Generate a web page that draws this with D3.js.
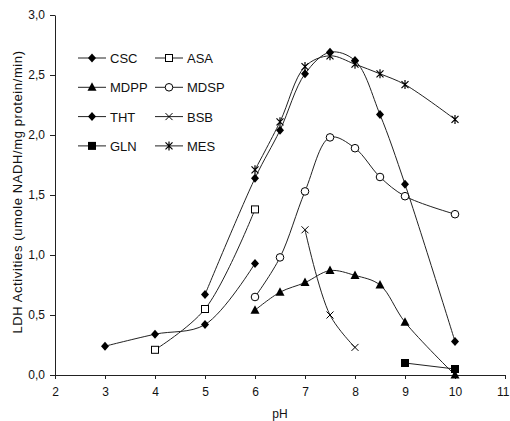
<!DOCTYPE html>
<html>
<head>
<meta charset="utf-8">
<script src="https://cdn.jsdelivr.net/npm/d3@7"></script>
<style>
  body { margin: 0; background: #fff; }
  text { font-family: "Liberation Sans", Arial, sans-serif; fill: #111; }
</style>
</head>
<body>
<script>
// series data (pH, activity)
var seriesNames = ["CSC", "ASA", "MDPP", "MDSP", "THT", "BSB", "GLN", "MES"];

var phCSC = [3, 4, 5, 6];
var valCSC = [0.24, 0.34, 0.42, 0.93];

var phASA = [4, 5, 6];
var valASA = [0.21, 0.55, 1.38];

var phMDPP = [6, 6.5, 7, 7.5, 8, 8.5, 9, 10];
var valMDPP = [0.54, 0.69, 0.77, 0.87, 0.83, 0.75, 0.44, 0.0];

var phMDSP = [6, 6.5, 7, 7.5, 8, 8.5, 9, 10];
var valMDSP = [0.65, 0.98, 1.53, 1.98, 1.89, 1.65, 1.49, 1.34];

var phTHT = [5, 6, 6.5, 7, 7.5, 8, 8.5, 9, 10];
var valTHT = [0.67, 1.64, 2.04, 2.51, 2.69, 2.62, 2.17, 1.59, 0.28];

var phBSB = [7, 7.5, 8];
var valBSB = [1.21, 0.50, 0.23];

var phGLN = [9, 10];
var valGLN = [0.10, 0.05];

var phMES = [6, 6.5, 7, 7.5, 8, 8.5, 9, 10];
var valMES = [1.71, 2.11, 2.57, 2.66, 2.59, 2.51, 2.42, 2.13];

var xTicks = [2, 3, 4, 5, 6, 7, 8, 9, 10, 11];
var yTicks = [0, 0.5, 1.0, 1.5, 2.0, 2.5, 3.0];

var markers = {CSC: "diamond", ASA: "square", MDPP: "triangle", MDSP: "circle",
               THT: "diamond", BSB: "cross", GLN: "fsquare", MES: "star"};

var series = [
  {name: "CSC", x: phCSC, y: valCSC},
  {name: "ASA", x: phASA, y: valASA},
  {name: "MDPP", x: phMDPP, y: valMDPP},
  {name: "MDSP", x: phMDSP, y: valMDSP},
  {name: "THT", x: phTHT, y: valTHT},
  {name: "BSB", x: phBSB, y: valBSB},
  {name: "GLN", x: phGLN, y: valGLN},
  {name: "MES", x: phMES, y: valMES}
];

var W = 510, H = 421;
var svg = d3.select("body").append("svg").attr("width", W).attr("height", H);

var x = d3.scaleLinear().domain([2, 11]).range([55, 505]);
var y = d3.scaleLinear().domain([0, 3]).range([375, 15]);

var comma = function(d) { return d3.format(".1f")(d).replace(".", ","); };

// axes
var yAxis = svg.append("g")
  .attr("transform", "translate(55,0)")
  .call(d3.axisLeft(y).tickValues(yTicks).tickFormat(comma).tickSize(5).tickSizeOuter(0));
var xAxis = svg.append("g")
  .attr("transform", "translate(0,375)")
  .call(d3.axisBottom(x).tickValues(xTicks).tickFormat(d3.format("d")).tickSize(4).tickSizeOuter(0));

[xAxis, yAxis].forEach(function(a) {
  a.selectAll("path, line").attr("stroke", "#222");
  a.selectAll("text").style("font-size", "12px").attr("fill", "#222");
});
yAxis.selectAll("text").attr("x", -10);
xAxis.selectAll("text").attr("y", 12);
// last label sits at the very edge of the window, nudge it inside
xAxis.selectAll(".tick").filter(function(d) { return d === 11; })
  .select("text").attr("text-anchor", "end").attr("x", 4);

// axis titles
svg.append("text")
  .attr("x", 280).attr("y", 418)
  .attr("text-anchor", "middle")
  .style("font-size", "12px")
  .text("pH");
svg.append("text")
  .attr("transform", "translate(22,192) rotate(-90)")
  .attr("text-anchor", "middle")
  .style("font-size", "13px")
  .style("letter-spacing", "0.6px")
  .text("LDH  Activities (umole NADH/mg protein/min)");

// draw one marker at (cx, cy)
function drawMarker(g, type, cx, cy) {
  var s;
  if (type === "diamond") {
    g.append("path").attr("d", "M" + cx + "," + (cy - 4.5) + "L" + (cx + 4) + "," + cy + "L" + cx + "," + (cy + 4.5) + "L" + (cx - 4) + "," + cy + "Z")
      .attr("fill", "#000");
  } else if (type === "square") {
    g.append("rect").attr("x", cx - 3.5).attr("y", cy - 3.5).attr("width", 7).attr("height", 7)
      .attr("fill", "#fff").attr("stroke", "#000").attr("stroke-width", 1);
  } else if (type === "fsquare") {
    g.append("rect").attr("x", cx - 4).attr("y", cy - 4).attr("width", 8).attr("height", 8)
      .attr("fill", "#000");
  } else if (type === "triangle") {
    g.append("path").attr("d", "M" + cx + "," + (cy - 5) + "L" + (cx + 4.5) + "," + (cy + 3.5) + "L" + (cx - 4.5) + "," + (cy + 3.5) + "Z")
      .attr("fill", "#000");
  } else if (type === "circle") {
    g.append("circle").attr("cx", cx).attr("cy", cy).attr("r", 3.8)
      .attr("fill", "#fff").attr("stroke", "#000").attr("stroke-width", 1);
  } else if (type === "cross") {
    s = 3.5;
    g.append("path").attr("d", "M" + (cx - s) + "," + (cy - s) + "L" + (cx + s) + "," + (cy + s) + "M" + (cx + s) + "," + (cy - s) + "L" + (cx - s) + "," + (cy + s))
      .attr("stroke", "#000").attr("stroke-width", 1).attr("fill", "none");
  } else if (type === "star") {
    s = 3.5;
    g.append("path").attr("d", "M" + (cx - s) + "," + (cy - s) + "L" + (cx + s) + "," + (cy + s) + "M" + (cx + s) + "," + (cy - s) + "L" + (cx - s) + "," + (cy + s) + "M" + cx + "," + (cy - 4.5) + "L" + cx + "," + (cy + 4.5))
      .attr("stroke", "#000").attr("stroke-width", 1.2).attr("fill", "none");
  }
}

// smoothed lines like the spreadsheet chart
var line = d3.line()
  .x(function(d) { return x(d[0]); })
  .y(function(d) { return y(d[1]); })
  .curve(d3.curveCatmullRom.alpha(0.5));

var plot = svg.append("g");
series.forEach(function(s) {
  var pts = d3.zip(s.x, s.y);
  plot.append("path").datum(pts)
    .attr("d", line)
    .attr("fill", "none")
    .attr("stroke", "#222")
    .attr("stroke-width", 1);
});
series.forEach(function(s) {
  var g = plot.append("g").attr("class", "markers-" + s.name);
  d3.zip(s.x, s.y).forEach(function(p) {
    drawMarker(g, markers[s.name], x(p[0]), y(p[1]));
  });
});

// legend: two columns, four rows
var legend = svg.append("g");
seriesNames.forEach(function(name, i) {
  var col = i % 2, row = Math.floor(i / 2);
  var lx = col === 0 ? 78 : 155;
  var ly = 58 + row * 29.3;
  var g = legend.append("g");
  g.append("line").attr("x1", lx).attr("x2", lx + 28).attr("y1", ly).attr("y2", ly)
    .attr("stroke", "#222").attr("stroke-width", 1);
  drawMarker(g, markers[name], lx + 14, ly);
  g.append("text").attr("x", lx + 32).attr("y", ly + 5)
    .style("font-size", "13px")
    .text(name);
});
</script>
</body>
</html>
